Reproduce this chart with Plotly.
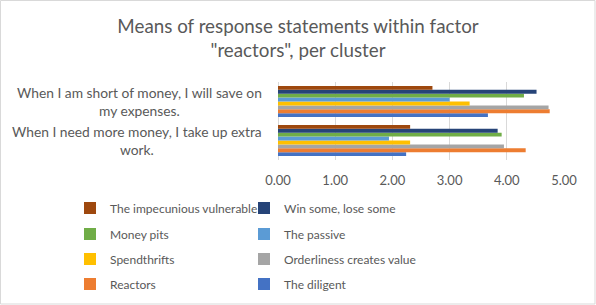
import plotly.graph_objects as go

categories = ["When I need more money, I take up extra<br>work.",
              "When I am short of money, I will save on<br>my expenses."]

# trace order bottom -> top within group
series_names = ["The diligent", "Reactors", "Orderliness creates value", "Spendthrifts",
                "The passive", "Money pits", "Win some, lose some", "The impecunious vulnerable"]
series_colors = ["#4472C4", "#ED7D31", "#A5A5A5", "#FFC000",
                 "#5B9BD5", "#70AD47", "#264478", "#9E480E"]
# values: [extra work, save on expenses]
series_values = [
    [2.24, 3.67],
    [4.33, 4.75],
    [3.95, 4.73],
    [2.31, 3.35],
    [1.94, 3.00],
    [3.91, 4.30],
    [3.84, 4.52],
    [2.31, 2.70],
]
x_ticks = [0, 1, 2, 3, 4, 5]
x_ticklabels = ["0.00", "1.00", "2.00", "3.00", "4.00", "5.00"]

FONT = "Lato"
GREY = "#595959"

# legend grid: (column, row) for each series, reading order as in the reference
legend_cells = [(1, 3), (0, 3), (1, 2), (0, 2), (1, 1), (0, 1), (1, 0), (0, 0)]
col_x = [70, 244]
row_y = [208, 234, 259, 284]

fig = go.Figure()
layout_legends = {}
for i, (name, color, vals, cell) in enumerate(zip(series_names, series_colors, series_values, legend_cells)):
    key = "legend" if i == 0 else f"legend{i + 1}"
    fig.add_trace(go.Bar(
        y=categories, x=vals, orientation="h", name=name,
        marker=dict(color=color, line=dict(width=0)),
        legend=key,
    ))
    layout_legends[key] = dict(
        orientation="v", xref="container", yref="container",
        xanchor="left", yanchor="middle",
        x=col_x[cell[0]] / 596, y=1 - row_y[cell[1]] / 305,
        font=dict(family=FONT, size=12, color=GREY),
        bgcolor="rgba(0,0,0,0)", itemclick=False, borderwidth=0,
    )

fig.update_layout(
    width=596, height=305,
    margin=dict(l=278, r=32, t=82, b=145, autoexpand=False),
    paper_bgcolor="white", plot_bgcolor="white",
    barmode="group", bargap=0.2, bargroupgap=0,
    showlegend=True,
    title=dict(text="Means of response statements within factor<br>\"reactors\", per cluster",
               x=0.5, xanchor="center", y=1 - 33 / 305, yanchor="middle",
               font=dict(family=FONT, size=18.8, color=GREY)),
    xaxis=dict(range=[0, 5], tickvals=x_ticks, ticktext=x_ticklabels,
               showgrid=True, gridcolor="#D9D9D9", gridwidth=1,
               zeroline=True, zerolinecolor="#D9D9D9", zerolinewidth=1,
               showline=False, ticks="", ticklabelstandoff=11,
               tickfont=dict(family=FONT, size=13, color=GREY), fixedrange=True),
    yaxis=dict(showticklabels=False, showgrid=False, zeroline=False, showline=False,
               ticks="", fixedrange=True),
    **layout_legends,
)

for cat in categories:
    fig.add_annotation(x=0, xref="paper", y=cat, yref="y", xanchor="right",
                       xshift=-14, text=cat, showarrow=False, align="center",
                       font=dict(family=FONT, size=13.8, color=GREY))

fig.add_shape(type="rect", xref="paper", yref="paper",
              x0=-277.5 / 286, x1=(596 - 278 - 1) / 286, y0=-144 / 78, y1=1 + 81.5 / 78,
              line=dict(color="#D9D9D9", width=1))

fig.write_html("out.html", config={"displayModeBar": False, "staticPlot": True},
               post_script="document.body.style.margin='0';document.body.style.overflow='hidden';")
